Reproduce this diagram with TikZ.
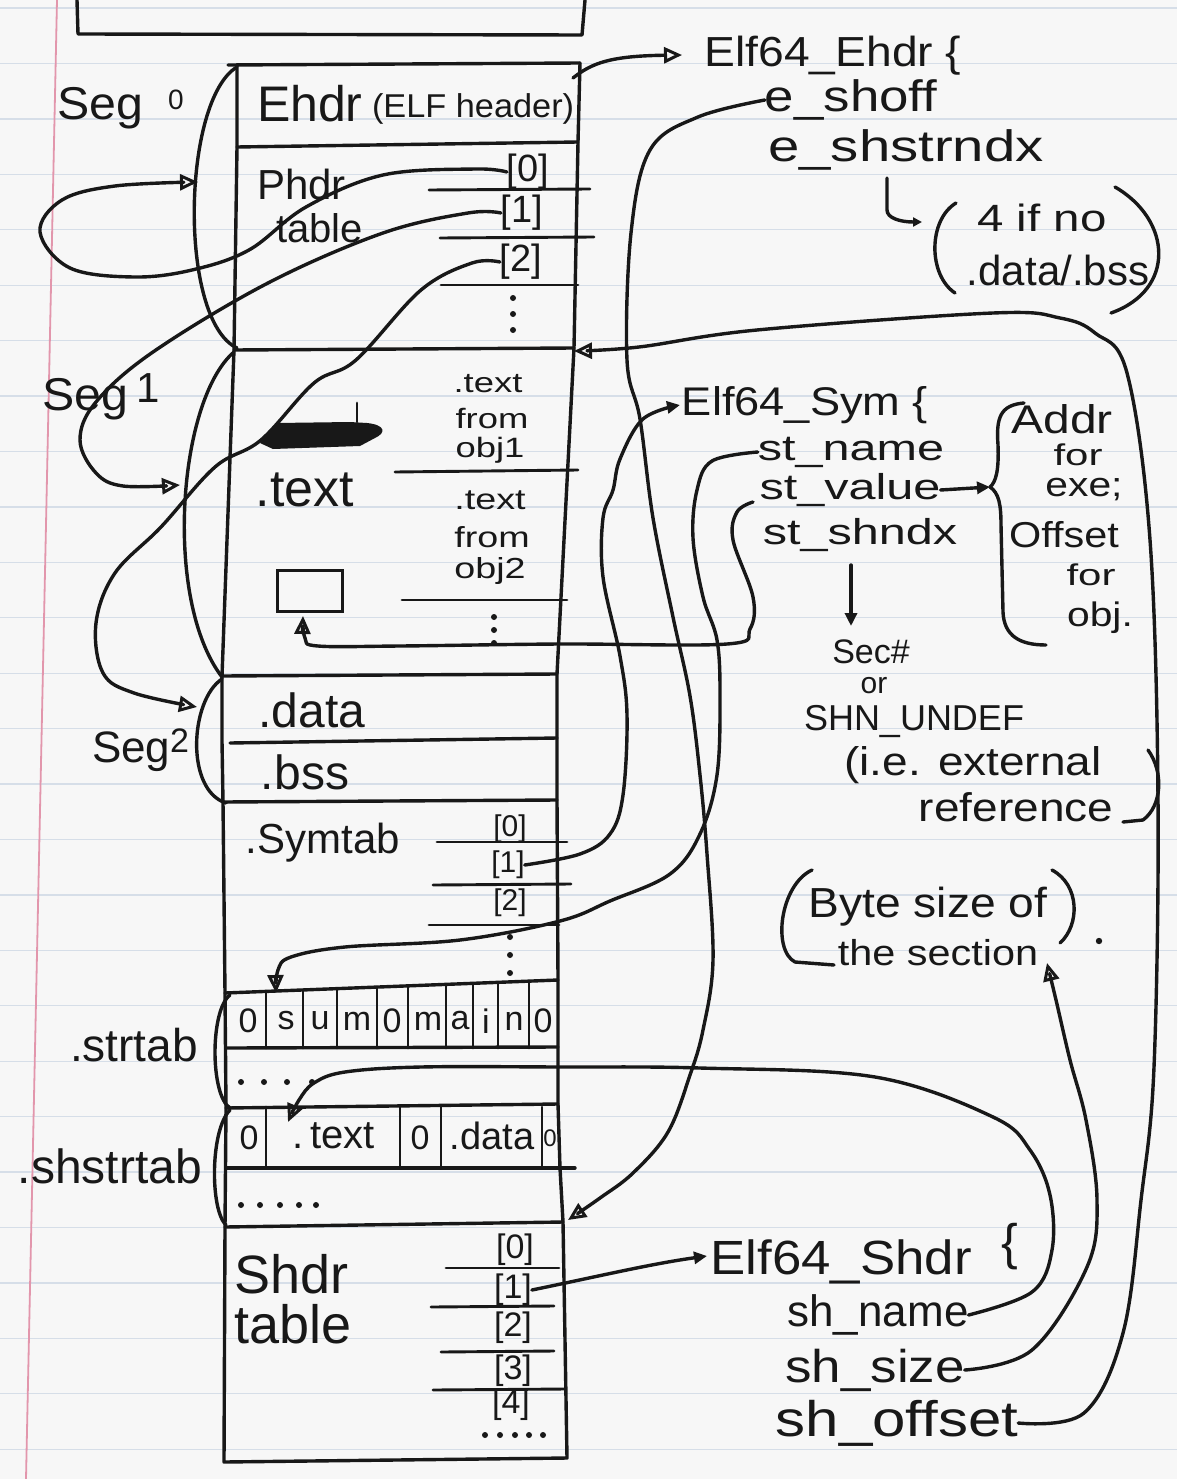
\documentclass[tikz,border=0pt]{standalone}
\usepackage{graphicx}
\usepackage{fontspec}
\setmainfont{Liberation Sans}
\usetikzlibrary{arrows.meta}
\newcommand{\fsz}[1]{\fontsize{#1}{#1}\selectfont}
\newcommand{\hwide}[2]{\scalebox{#1}[1]{#2}}
\definecolor{inkc}{RGB}{24,24,24}
\definecolor{paper}{RGB}{247,247,247}
\definecolor{rule}{RGB}{214,222,232}
\definecolor{margin}{RGB}{226,150,172}
\begin{document}
\begin{tikzpicture}[x=1pt,y=-1pt,
  ink/.style={draw=inkc, line width=3.4pt, line cap=round, line join=round},
  thinl/.style={ink, line width=2.9pt},
  txt/.style={inner sep=0pt, outer sep=0pt, text=inkc},
  oarr/.style={-{Triangle[open,length=18pt,width=16pt,line width=3pt]}},
  farr/.style={-{Triangle[length=13pt,width=12pt]}},
  sarr/.style={-{Triangle[length=9pt,width=9pt]}},
  dotf/.style={fill=inkc}
]
% paper
\fill[paper] (0,0) rectangle (1177,1479);
\useasboundingbox (0,0) rectangle (1177,1479);
\foreach \k in {0,...,26} \draw[rule, line width=1.3pt] (0,{8+55.43*\k}) -- (1177,{8+55.43*\k});
\draw[margin, line width=1.8pt] (57,0) -- (26,1479);

% title box (top cut off)
\draw[ink] (77,0) -- (78,34) -- (582,35) -- (585,0);

% main column
\draw[ink] (228,65) -- (580,63);
\draw[ink] (237,65) -- (237,147) -- (234,350) -- (222,676) -- (222,741) -- (223,802) -- (225,993) -- (226,1108) -- (225,1227) -- (224,1462) -- (567,1458) -- (563,1222) -- (560,1168) -- (558,1104) -- (558,980) -- (557,800) -- (557,674) -- (574,348) -- (578,142) -- (580,63);
\draw[ink] (237,147) -- (578,142);
\draw[ink] (234,350) -- (574,348);
\draw[ink] (222,676) -- (557,674);
\draw[ink] (230,743) -- (557,738);
\draw[ink] (223,802) -- (557,800);
\draw[ink] (225,993) -- (558,980);
\draw[ink] (226,1048) -- (558,1047);
\draw[ink] (226,1108) -- (558,1104);
\draw[ink] (226,1168) -- (575,1168);
\draw[ink] (225,1227) -- (563,1222);

% segment brackets
\draw[ink] (237,67) .. controls (182,100) and (178,320) .. (237,348);
\draw[ink] (234,352) .. controls (178,400) and (163,600) .. (222,677);
\draw[ink] (222,679) .. controls (190,700) and (185,790) .. (226,803);
\draw[ink] (230,995) .. controls (210,1010) and (210,1095) .. (230,1108);
\draw[ink] (230,1110) .. controls (210,1130) and (210,1210) .. (226,1225);

% left labels
\node[txt,font=\fsz{46},anchor=base west] (seg0) at (57,120) {\hwide{1.05}{Seg}};
\node[txt,font=\fsz{28},anchor=base west] (seg0n) at (168,110) {0};
\node[txt,font=\fsz{46},anchor=base west] (seg1) at (42,410) {\hwide{1.05}{Seg}};
\node[txt,font=\fsz{42},anchor=base west] (seg1n) at (136,402) {1};
\node[txt,font=\fsz{44},anchor=base west] (seg2) at (92,762) {Seg};
\node[txt,font=\fsz{34},anchor=base west] (seg2n) at (170,752) {2};
\node[txt,font=\fsz{46}] (strtabl) at (134,1045) {.strtab};
\node[txt,font=\fsz{48}] (shstrtabl) at (110,1166) {.shstrtab};

% Ehdr
\node[txt,font=\fsz{50},anchor=base west] (ehdr) at (257,122) {Ehdr};
\node[txt,font=\fsz{33},anchor=base west] (elfh) at (372,118) {\hwide{1.04}{(ELF header)}};

% Phdr table
\node[txt,font=\fsz{42},anchor=base west] (phdr) at (257,200) {Phdr};
\node[txt,font=\fsz{40},anchor=base west] (phdrt) at (276,243) {table};
\node[txt,font=\fsz{38}] (p0) at (528,172) {[0]};
\node[txt,font=\fsz{38}] (p1) at (522,213) {[1]};
\node[txt,font=\fsz{38}] (p2) at (521,262) {[2]};
\draw[thinl] (429,190) -- (590,189);
\draw[thinl] (440,238) -- (594,237);
\draw[thinl] (441,285) -- (578,285);
\foreach \y in {298,314,330} \fill[dotf] (513,\y) circle (3pt);

% .text
\node[txt,font=\fsz{52}] (textl) at (305,490) {.text};
\node[txt,font=\fsz{28}] (t1a) at (488,384) {\hwide{1.3}{.text}};
\node[txt,font=\fsz{28}] (t1b) at (492,419) {\hwide{1.3}{from}};
\node[txt,font=\fsz{28}] (t1c) at (490,450) {\hwide{1.3}{obj1}};
\node[txt,font=\fsz{29}] (t2a) at (490,500) {\hwide{1.3}{.text}};
\node[txt,font=\fsz{29}] (t2b) at (492,537) {\hwide{1.3}{from}};
\node[txt,font=\fsz{29}] (t2c) at (490,571) {\hwide{1.3}{obj2}};
\draw[thinl] (395,472) -- (578,470);
\draw[thinl] (402,600) -- (567,600);
\foreach \y in {617,630,643} \fill[dotf] (494,\y) circle (3pt);
\fill[inkc] (260,443) -- (277,423) -- (350,422) -- (367,423) .. controls (386,425) and (386,433) .. (375,438) -- (360,446) -- (273,449) -- cycle;
\draw[thinl] (357,403) -- (357,422);
\node[draw=inkc, line width=3pt, minimum width=65pt, minimum height=41pt, inner sep=0pt] (symbox) at (310,591) {};

% .data / .bss
\node[txt,font=\fsz{48}] (datal) at (312,710) {.data};
\node[txt,font=\fsz{48}] (bssl) at (305,772) {.bss};

% .symtab
\node[txt,font=\fsz{42}] (symtabl) at (323,843) {.Symtab};
\node[txt,font=\fsz{30}] (s0) at (510,829) {[0]};
\node[txt,font=\fsz{30}] (s1) at (508,865) {[1]};
\node[txt,font=\fsz{30}] (s2) at (510,903) {[2]};
\draw[thinl] (437,842) -- (567,842);
\draw[thinl] (433,885) -- (571,884);
\draw[thinl] (429,925) -- (559,925);
\foreach \y in {937,955,973} \fill[dotf] (510,\y) circle (3pt);

% .strtab cells
\foreach \x in {266,303,337,377,408,446,473,498,529} \draw[thinl] (\x,{993-13*(\x-225)/333}) -- (\x,1048);
\foreach \c/\x in {0/248,s/286,u/320,m/357,0/392,m/428,a/460,i/486,n/514,0/543}
  \node[txt,font=\fsz{34}] (sc\x) at (\x,1021) {\c};
\foreach \x in {241,264,287,312} \fill[dotf] (\x,1082) circle (3pt);

% .shstrtab cells
\foreach \x in {266,400,441,542} \draw[thinl] (\x,1107) -- (\x,1168);
\node[txt,font=\fsz{34}] (h0) at (249,1138) {0};
\node[txt,font=\fsz{40}] (htext) at (334,1136) {.\,text};
\node[txt,font=\fsz{34}] (h1) at (420,1138) {0};
\node[txt,font=\fsz{38}] (hdata) at (492,1136) {.data};
\node[txt,font=\fsz{24}] (h2) at (550,1138) {0};
\foreach \x in {241,260,280,299,316} \fill[dotf] (\x,1205) circle (3pt);

% Shdr table
\node[txt,font=\fsz{54},anchor=base west] (shdr) at (234,1293) {Shdr};
\node[txt,font=\fsz{54},anchor=base west] (shdrt) at (234,1343) {table};
\node[txt,font=\fsz{34}] (h0i) at (515,1250) {[0]};
\node[txt,font=\fsz{34}] (h1i) at (513,1290) {[1]};
\node[txt,font=\fsz{34}] (h2i) at (513,1328) {[2]};
\node[txt,font=\fsz{34}] (h3i) at (513,1371) {[3]};
\node[txt,font=\fsz{34}] (h4i) at (511,1405) {[4]};
\draw[thinl] (446,1268) -- (559,1268);
\draw[thinl] (431,1307) -- (554,1306);
\draw[thinl] (441,1352) -- (554,1351);
\draw[thinl] (433,1390) -- (565,1389);
\foreach \x in {485,500,515,529,543} \fill[dotf] (\x,1435) circle (3pt);

% right side texts
\node[txt,font=\fsz{42}] (elfehdr) at (833,56) {\hwide{1.1}{Elf64\_Ehdr \{}};
\node[txt,font=\fsz{44}] (eshoff) at (851,100) {\hwide{1.2}{e\_shoff}};
\node[txt,font=\fsz{44}] (eshstrndx) at (906,150) {\hwide{1.28}{e\_shstrndx}};
\node[txt,font=\fsz{38}] (ifno) at (1042,218) {\hwide{1.25}{4 if no}};
\node[txt,font=\fsz{42}] (databss) at (1058,270) {.data/.bss};
\node[txt,font=\fsz{40}] (elfsym) at (805,405) {\hwide{1.13}{Elf64\_Sym \{}};
\node[txt,font=\fsz{36}] (stname) at (851,452) {\hwide{1.35}{st\_name}};
\node[txt,font=\fsz{36}] (stvalue) at (850,490) {\hwide{1.35}{st\_value}};
\node[txt,font=\fsz{36}] (stshndx) at (860,535) {\hwide{1.35}{st\_shndx}};
\node[txt,font=\fsz{40}] (addr) at (1062,419) {\hwide{1.2}{Addr}};
\node[txt,font=\fsz{30}] (for1) at (1078,455) {\hwide{1.4}{for}};
\node[txt,font=\fsz{34}] (exe) at (1084,490) {\hwide{1.2}{exe;}};
\node[txt,font=\fsz{36}] (offset) at (1064,535) {\hwide{1.15}{Offset}};
\node[txt,font=\fsz{30}] (for2) at (1091,575) {\hwide{1.4}{for}};
\node[txt,font=\fsz{34}] (objd) at (1100,618) {\hwide{1.2}{obj.}};
\node[txt,font=\fsz{34}] (secn) at (871,652) {Sec\#};
\node[txt,font=\fsz{30}] (orw) at (874,686) {or};
\node[txt,font=\fsz{36}] (shnundef) at (914,722) {SHN\_UNDEF};
\node[txt,font=\fsz{40}] (ie) at (973,765) {\hwide{1.15}{(i.e. external}};
\node[txt,font=\fsz{40}] (refw) at (1016,807) {\hwide{1.15}{reference}};
\node[txt,font=\fsz{42}] (bytesz) at (928,907) {\hwide{1.1}{Byte size of}};
\node[txt,font=\fsz{36}] (thesec) at (938,953) {\hwide{1.15}{the section}};
\node[txt,font=\fsz{48}] (elfshdr) at (841,1262) {\hwide{1.1}{Elf64\_Shdr}};
\node[txt,font=\fsz{50}] (shbrace) at (1010,1247) {\{};
\node[txt,font=\fsz{44}] (shname) at (878,1315) {sh\_name};
\node[txt,font=\fsz{46}] (shsize) at (875,1370) {\hwide{1.15}{sh\_size}};
\node[txt,font=\fsz{50}] (shoffset) at (897,1423) {\hwide{1.2}{sh\_offset}};

% parentheses and braces
\draw[ink] (956,203) .. controls (928,220) and (928,275) .. (955,293);
\draw[ink] (1115,187) .. controls (1172,220) and (1176,290) .. (1111,313);
\draw[ink] (1024,403) .. controls (1000,405) and (996,418) .. (998,445) .. controls (999,470) and (996,482) .. (990,487) .. controls (999,493) and (1001,505) .. (1001,525) -- (1003,612) .. controls (1004,636) and (1020,645) .. (1046,645);
\draw[ink] (1148,750) .. controls (1164,772) and (1162,806) .. (1143,820) -- (1123,822);
\draw[ink] (812,870) .. controls (780,885) and (772,950) .. (795,962) -- (834,965);
\draw[ink] (1052,870) .. controls (1080,885) and (1080,925) .. (1060,943);
\fill[dotf] (1099,941) circle (3.2pt);

% arrow end points
\coordinate (seg0tip) at (198,182);
\coordinate (seg1tip) at (180,485);
\coordinate (seg2tip) at (197,707);
\coordinate (ehdrtip) at (682,55);
\coordinate (symtip) at (680,405);
\coordinate (shdrtabtip) at (568,1220);
\coordinate (texttip) at (574,351);
\coordinate (strtip) at (276,993);
\coordinate (boxtip) at (303,616);
\coordinate (shstrtip) at (288,1122);
\coordinate (bytetip) at (1047,963);
\coordinate (elfshdrtip) at (707,1256);

% connectors
\draw[ink,oarr] (573,78) .. controls (592,63) and (610,56) .. (ehdrtip);
\draw[ink,sarr] (887,178) -- (887,210) .. controls (887,218) and (900,222) .. (922,222);
\draw[ink,oarr] plot[smooth,tension=0.6] coordinates {(p0.west) (475,169) (383,175) (306,207) (249,250) (192,270) (134,277) (70,268) (40,232) (62,200) (115,186) (seg0tip)};
\draw[ink,oarr] plot[smooth,tension=0.6] coordinates {(p1.west) (468,213) (383,233) (268,283) (153,352) (96,402) (80,440) (96,473) (123,486) (seg1tip)};
\draw[ink,oarr] plot[smooth,tension=0.6] coordinates {(p2.west) (472,263) (421,290) (356,360) (314,383) (261,440) (215,467) (161,527) (115,573) (96,623) (103,673) (134,693) (seg2tip)};
\draw[ink,farr] plot[smooth,tension=0.6] coordinates {(s1.east) (580,854) (610,834) (623,795) (627,715) (620,656) (603,577) (603,518) (613,490) (620,459) (643,419) (symtip)};
\draw[ink,oarr] plot[smooth,tension=0.6] coordinates {(eshoff.west) (698,117) (650,150) (631,233) (627,360) (640,419) (653,518) (673,617) (690,696) (700,775) (707,854) (713,960) (703,1030) (690,1075) (668,1132) (633,1173) (600,1198) (shdrtabtip)};
\draw[ink,oarr] plot[smooth,tension=0.6] coordinates {(stname.west) (712,461) (697,490) (693,538) (703,597) (717,640) (720,696) (717,775) (700,834) (670,874) (610,901) (560,921) (460,940) (345,947) (291,957) (278,970) (strtip)};
\draw[ink,oarr] plot[smooth,tension=0.6] coordinates {(753,502) (737,512) (733,540) (753,597) (750,629) (727,644) (560,644) (400,646) (318,646) (305,638) (boxtip)};
\draw[ink,oarr] plot[smooth,tension=0.6] coordinates {(shoffset.east) (1084,1413) (1123,1333) (1141,1200) (1154,1067) (1158,800) (1150,540) (1127,373) (1095,333) (1060,318) (993,313) (757,330) (639,347) (texttip)};
\draw[ink,oarr] plot[smooth,tension=0.6] coordinates {(shsize.east) (1032,1350) (1087,1267) (1097,1200) (1086,1120) (1070,1060) (1056,1000) (bytetip)};
\draw[ink,oarr] plot[smooth,tension=0.6] coordinates {(shname.east) (1032,1292) (1052,1250) (1050,1195) (1030,1150) (993,1117) (875,1077) (700,1068) (560,1067) (421,1067) (345,1072) (314,1083) (299,1100) (shstrtip)};
\draw[ink,farr] (h1i.east) .. controls (600,1276) and (650,1264) .. (elfshdrtip);
\draw[ink,farr] (stvalue.east) -- (990,487);
\draw[ink,farr] (851,565) -- (851,626);
\end{tikzpicture}
\end{document}
